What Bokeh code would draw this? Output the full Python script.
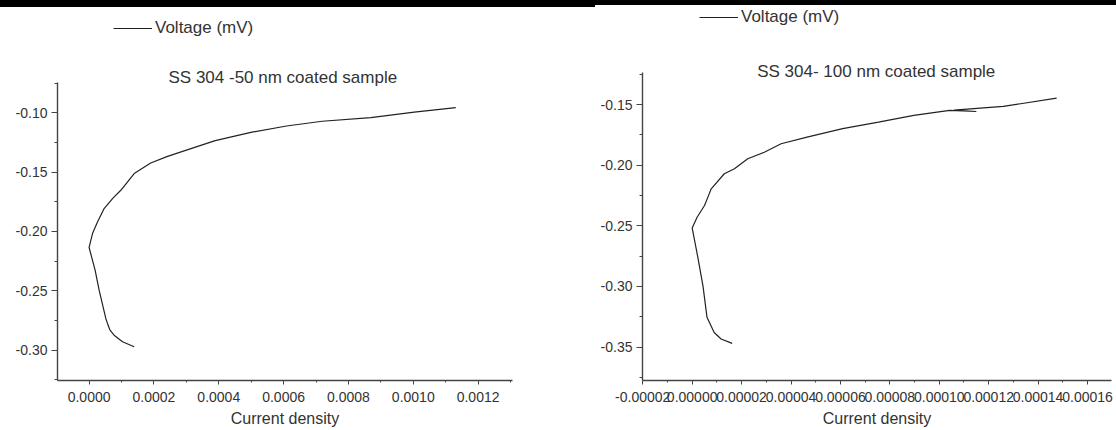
from bokeh.plotting import figure
from bokeh.models import (FixedTicker, PrintfTickFormatter, Label, Legend,
                          LegendItem, Range1d, Div)
from bokeh.layouts import row, column
from bokeh.embed import file_html
from bokeh.resources import INLINE

# ---------------- data ----------------
legend_label = "Voltage (mV)"
x_label = "Current density"
titles = ["SS 304 -50 nm coated sample", "SS 304- 100 nm coated sample"]

left_x = [0.000139, 0.000103, 0.0000771, 0.0000640, 0.0000567, 0.0000515,
          0.0000309, 0.0000185, 0.0, 0.0000105, 0.0000259, 0.0000463,
          0.0000722, 0.0000978, 0.000139, 0.00019, 0.000242, 0.000314,
          0.000389, 0.000499, 0.000609, 0.000719, 0.000869, 0.001003, 0.001131]
left_y = [-0.2973, -0.2931, -0.2875, -0.2830, -0.2776, -0.2734,
          -0.2496, -0.2327, -0.2136, -0.2019, -0.1921, -0.1808,
          -0.1724, -0.1654, -0.1513, -0.1424, -0.1368, -0.1303,
          -0.1236, -0.1166, -0.1112, -0.1072, -0.1042, -0.0995, -0.0958]

right_x = [0.0000162, 0.0000117, 0.0000089, 0.0000060, 0.0000044, 0.0000023,
           0.0, 0.0000020, 0.0000050, 0.0000069, 0.0000077, 0.0000130,
           0.0000171, 0.0000225, 0.0000292, 0.0000360, 0.0000465, 0.0000609,
           0.0000754, 0.0000897, 0.0001042, 0.0001150, 0.0001060, 0.0001259,
           0.0001329, 0.0001475]
right_y = [-0.3470, -0.3434, -0.3380, -0.3255, -0.2999, -0.2760,
           -0.2517, -0.2429, -0.2332, -0.2236, -0.2194, -0.2070,
           -0.2029, -0.1946, -0.1892, -0.1822, -0.1768, -0.1698,
           -0.1644, -0.1588, -0.1547, -0.1556, -0.1545, -0.1514,
           -0.1492, -0.1446]

left_xticks = [0.0, 0.0002, 0.0004, 0.0006, 0.0008, 0.0010, 0.0012]
left_yticks = [-0.30, -0.25, -0.20, -0.15, -0.10]
right_xticks = [-0.00002, 0.0, 0.00002, 0.00004, 0.00006, 0.00008,
                0.00010, 0.00012, 0.00014, 0.00016]
right_yticks = [-0.35, -0.30, -0.25, -0.20, -0.15]

FONT = "Liberation Sans"
TXT = "#333333"


def minors(ticks):
    step = ticks[1] - ticks[0]
    out = [t + step / 2 for t in ticks]
    out.append(ticks[0] - step / 2)
    return out


def panel(xs, ys, xr, yr, ybounds, xticks, yticks, xfmt, yfmt, title, tpos,
          lpos, width, borders):
    p = figure(width=width, height=423, x_range=Range1d(*xr),
               y_range=Range1d(*yr), output_backend="svg",
               toolbar_location=None,
               min_border_left=borders[0], min_border_right=borders[1],
               min_border_top=0, min_border_bottom=borders[2])
    p.xgrid.visible = False
    p.ygrid.visible = False
    p.outline_line_color = None
    p.background_fill_color = "white"
    p.border_fill_color = "white"

    r = p.line(xs, ys, line_color="#222222", line_width=1.2)

    for ax in (p.xaxis[0], p.yaxis[0]):
        ax.axis_line_color = "#444444"
        ax.axis_line_width = 1.4
        ax.major_tick_line_color = "#444444"
        ax.minor_tick_line_color = "#444444"
        ax.major_tick_in = 0
        ax.minor_tick_in = 0
        ax.major_label_text_font = FONT
        ax.major_label_text_font_size = "14px"
        ax.major_label_text_color = TXT

    p.yaxis.bounds = ybounds
    p.xaxis.ticker = FixedTicker(ticks=xticks, minor_ticks=minors(xticks))
    p.yaxis.ticker = FixedTicker(ticks=yticks, minor_ticks=minors(yticks))
    p.xaxis.formatter = PrintfTickFormatter(format=xfmt)
    p.yaxis.formatter = PrintfTickFormatter(format=yfmt)
    p.xaxis.major_tick_out = 4
    p.xaxis.minor_tick_out = 2
    p.yaxis.major_tick_out = 6
    p.yaxis.minor_tick_out = 3
    p.xaxis.major_label_standoff = 7
    p.yaxis.major_label_standoff = 4
    p.xaxis.axis_label = x_label
    p.xaxis.axis_label_text_font = FONT
    p.xaxis.axis_label_text_font_size = "16px"
    p.xaxis.axis_label_text_font_style = "normal"
    p.xaxis.axis_label_text_color = TXT
    p.xaxis.axis_label_standoff = 5

    p.add_layout(Label(x=tpos[0], y=tpos[1], text=title, text_align="center",
                       text_baseline="middle", text_font=FONT,
                       text_font_size="17px", text_color=TXT))

    leg = Legend(items=[LegendItem(label=legend_label, renderers=[r])],
                 location=lpos, border_line_color=None,
                 background_fill_alpha=0, padding=0, margin=0, spacing=0,
                 glyph_width=39, glyph_height=18, label_height=18,
                 label_standoff=3, label_text_font=FONT,
                 label_text_font_size="17px", label_text_color=TXT)
    p.add_layout(leg)
    return p


p1 = panel(left_x, left_y, (-0.0000975, 0.0013061), (-0.3257, -0.01136),
           (-0.3257, -0.0742), left_xticks, left_yticks, "%.4f", "%.2f",
           titles[0], (0.0005976, -0.0707), (56, 342), 558, (57, 46, 50))
p2 = panel(right_x, right_y, (-0.0000201, 0.0001697), (-0.3776, -0.0698),
           (-0.3776, -0.1236), right_xticks, right_yticks, "%.5f", "%.2f",
           titles[1], (0.0000745, -0.1226), (57, 353), 558, (84, 5, 50))

bar1 = Div(width=595, height=7, margin=(0, 0, 0, 0),
           styles={"background-color": "black"})
bar2 = Div(width=521, height=7, margin=(0, 0, 0, 0),
           styles={"background": "linear-gradient(to bottom, #000000 5px, #ffffff 5px)"})

layout = column(row(bar1, bar2, spacing=0), row(p1, p2, spacing=0),
                spacing=0)

open("out.html", "w").write(file_html(layout, INLINE))
